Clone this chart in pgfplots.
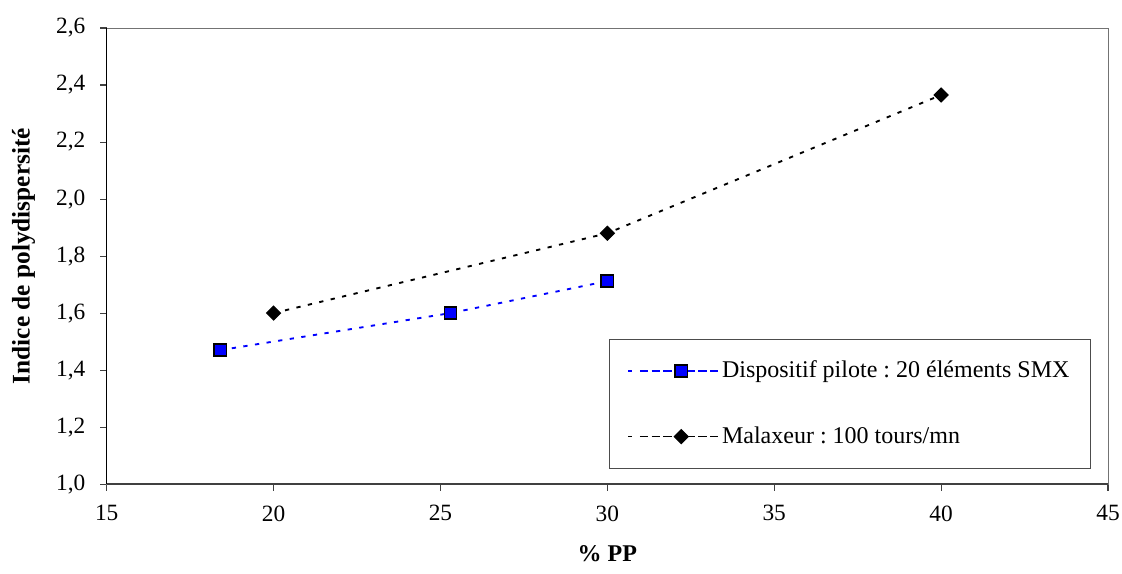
\documentclass[border=0pt]{standalone}
\usepackage{fontspec}
\setmainfont{Liberation Serif}
\usepackage{pgfplots}
\pgfplotsset{compat=1.18}
\definecolor{sqblue}{RGB}{0,0,255}
\begin{document}
\frenchspacing
\fontsize{17.5pt}{20pt}\selectfont
\begin{tikzpicture}
\begin{axis}[
  scale only axis,
  width=750.75pt, height=342pt,
  xmin=15, xmax=45, ymin=1.0, ymax=2.6,
  xtick={15,20,...,45},
  ytick={1.0,1.2,...,2.61},
  axis line style={draw=black!55},
  tick style={black!75, line width=0.8pt},
  tick align=outside,
  major tick length=5pt,
  xtick pos=bottom, ytick pos=left,
  /pgf/number format/assume math mode=true,
  yticklabel style={/pgf/number format/.cd, use comma, fixed, fixed zerofill, precision=1},
  xticklabel style={/pgf/number format/.cd, fixed},
  tick label style={font=\fontsize{17.5pt}{20pt}\selectfont},
  xticklabel shift=5pt,
  yticklabel shift=5pt,
  xlabel={\textbf{\% PP}},
  ylabel={\textbf{Indice de polydispersité}},
  xlabel style={font=\fontsize{18pt}{21pt}\selectfont, yshift=-6pt},
  ylabel style={font=\fontsize{19pt}{22pt}\selectfont, yshift=4pt},
  legend style={at={(0.5015,0.318)}, anchor=north west, draw=black!70,
    font=\fontsize{18pt}{20pt}\selectfont\frenchspacing,
    inner xsep=13.5pt, inner ysep=14pt, row sep=30pt,
    cells={anchor=west}},
  legend cell align=left,
  legend image code/.code={
    \path (-12pt,0cm) -- (1.96cm,0cm);
    \draw[#1] (0cm,0cm) -- (1.96cm,0cm);
    \draw[#1, solid] plot coordinates {(0.98cm,0cm)};
  },
]
\addplot[sqblue, line width=1.4pt, dash pattern=on 3.2pt off 5.6pt,
  mark=square*, mark size=4.6pt,
  mark options={solid, fill=sqblue, draw=black, line width=1.2pt}]
  coordinates {(18.4,1.47) (25.3,1.60) (30,1.712)};
\addlegendentry{Dispositif pilote : 20 éléments SMX}
\addplot[black, line width=1.4pt, dash pattern=on 3.2pt off 5.6pt,
  mark=square*, mark size=3.7pt,
  mark options={solid, fill=black, draw=black, rotate=45, line width=0.8pt}]
  coordinates {(20,1.60) (30,1.88) (40,2.365)};
\addlegendentry{Malaxeur : 100 tours/mn}
\end{axis}
\draw[black, line width=1.2pt] (current axis.north west) -- (current axis.south west);
\draw[black!75, line width=1.2pt] (current axis.south west) -- (current axis.south east);
\pgfresetboundingbox
\path (current axis.south west) ++(-80pt,-67pt) coordinate (bbA);
\path (current axis.north east) ++(10.5pt,21pt) coordinate (bbB);
\useasboundingbox (bbA) rectangle (bbB);
\end{tikzpicture}
\end{document}
